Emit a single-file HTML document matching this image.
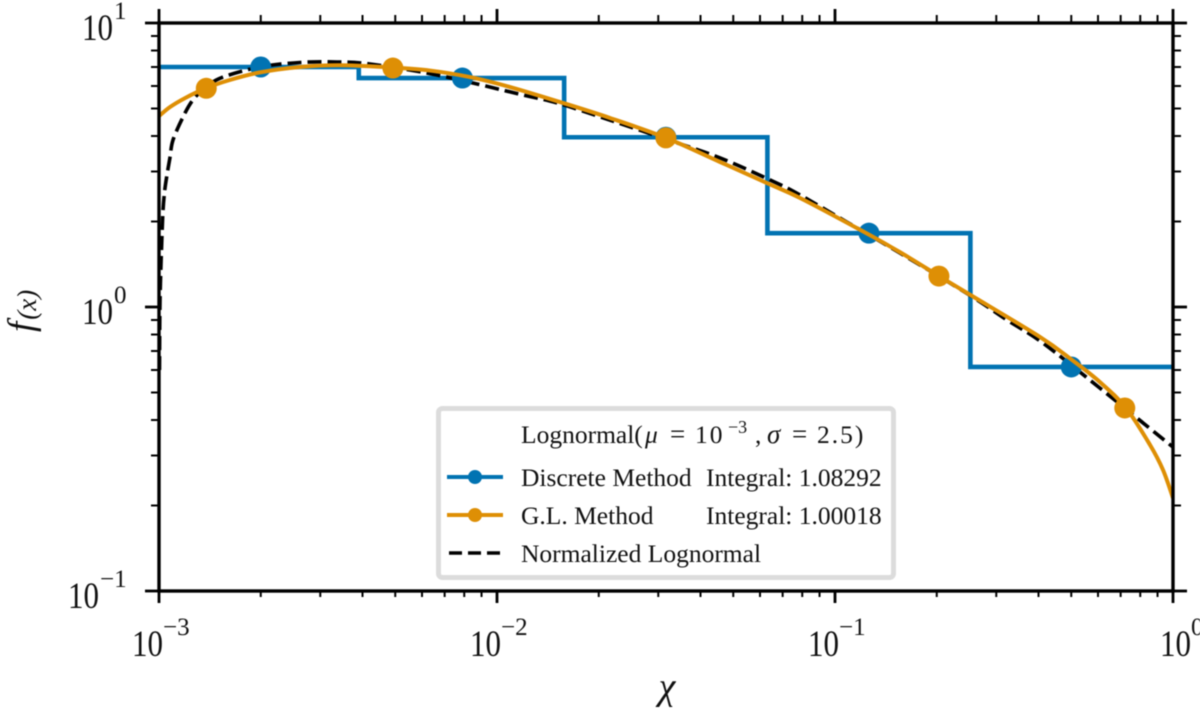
<!DOCTYPE html>
<html lang="en">
<head>
<meta charset="utf-8">
<title>Lognormal discretization chart</title>
<style>
html,body{margin:0;padding:0;background:#fff;width:1200px;height:713px;overflow:hidden}
svg{display:block;filter:blur(.4px)}
text{font-family:"Liberation Serif","DejaVu Serif",serif;fill:#111}
</style>
</head>
<body>
<svg id="chart" xmlns="http://www.w3.org/2000/svg" width="1200" height="713" viewBox="0 0 1200 713">
  <defs><clipPath id="plot-clip"><rect x="159" y="23" width="1014" height="568"/></clipPath></defs>
  <g id="series" clip-path="url(#plot-clip)"></g>
  <g id="markers"></g>
  <g id="axes"></g>
  <g id="labels"></g>
  <text x="667" y="699" font-size="38" font-style="italic" text-anchor="middle">χ</text>
  <text transform="translate(33,332) rotate(-90)" font-style="italic" font-size="37">f<tspan font-size="27" font-style="italic" dy="3" dx="2">(x)</tspan></text>
  <g>
    <rect x="438.5" y="408.5" width="455" height="169" rx="4" fill="#fff" stroke="#dcdcdc" stroke-width="5"/>
    <g font-size="25.5">
      <text x="521" y="443">Lognormal(</text>
      <text x="645" y="443" font-style="italic">μ</text>
      <text x="670" y="443" font-size="27">=</text>
      <text x="695" y="443" letter-spacing="2">10</text>
      <text x="728" y="433" font-size="18">−3</text>
      <text x="755" y="443">,</text>
      <text x="767" y="443" font-style="italic" font-size="27">σ</text>
      <text x="792" y="443" font-size="27">=</text>
      <text x="817" y="443" letter-spacing="2">2.5)</text>
    </g>
    <g>
      <line x1="447" x2="503" y1="477" y2="477" stroke="#0173B2" stroke-width="4"/>
      <circle cx="475" cy="477" r="7" fill="#0173B2"/>
      <text x="521" y="486" font-size="25.5">Discrete Method</text>
      <text x="706" y="486" font-size="25.5">Integral: 1.08292</text>
    </g>
    <g>
      <line x1="447" x2="503" y1="515" y2="515" stroke="#DE8F05" stroke-width="4"/>
      <circle cx="475" cy="515" r="7" fill="#DE8F05"/>
      <text x="521" y="524" font-size="25.5">G.L. Method</text>
      <text x="706" y="524" font-size="25.5">Integral: 1.00018</text>
    </g>
    <g>
      <line x1="449" x2="503" y1="553" y2="553" stroke="#000" stroke-width="3.5" stroke-dasharray="13,6"/>
      <text x="521" y="562" font-size="25.5">Normalized Lognormal</text>
    </g>
  </g>
</svg>
<script>
const xTickExponents = [-3, -2, -1, 0];
const yTickExponents = [-1, 0, 1];
const xTickLabels = ["−3", "−2", "−1", "0"];
const yTickLabels = ["−1", "0", "1"];
const minorMultipliers = [2, 3, 4, 5, 6, 7, 8, 9];

const discreteEdges = [0.001, 0.0039, 0.0158, 0.0631, 0.2515, 1];
const discreteValues = [7.0, 6.4, 3.96, 1.82, 0.615];
const discretePointX = [0.002, 0.0079, 0.0316, 0.126, 0.5];
const discretePointY = [7.0, 6.4, 3.96, 1.82, 0.615];

const glCurveX = [0.001, 0.001078, 0.001194, 0.001375, 0.00162, 0.00199, 0.00261, 0.00343, 0.00492, 0.00634, 0.00832, 0.01093, 0.01567, 0.02159, 0.03162, 0.04571, 0.0634, 0.0788, 0.1186, 0.1556, 0.2032, 0.246, 0.4044, 0.5026, 0.608, 0.726, 0.855, 0.934, 1];
const glCurveY = [4.70, 5.06, 5.44, 5.89, 6.30, 6.70, 7.0, 7.10, 6.97, 6.80, 6.45, 5.95, 5.23, 4.63, 3.94, 3.24, 2.72, 2.42, 1.87, 1.56, 1.285, 1.12, 0.784, 0.651, 0.544, 0.441, 0.327, 0.267, 0.2125];
const glPointX = [0.00138, 0.00492, 0.0316, 0.203, 0.72];
const glPointY = [5.89, 6.94, 3.94, 1.285, 0.441];

const lognormalX = [0.0010034, 0.001007, 0.00102, 0.001028, 0.00104, 0.001056, 0.001078, 0.0011, 0.001178, 0.00126, 0.001377, 0.001547, 0.00199, 0.00261, 0.00336, 0.00421, 0.00664, 0.01194, 0.01505, 0.02159, 0.03162, 0.04571, 0.0656, 0.0788, 0.1085, 0.1556, 0.2506, 0.3228, 0.4121, 0.608, 1];
const lognormalY = [0.60, 1.06, 1.76, 2.20, 2.58, 2.92, 3.37, 3.87, 4.67, 5.36, 5.95, 6.45, 7.0, 7.26, 7.29, 7.17, 6.56, 5.58, 5.23, 4.55, 3.90, 3.35, 2.77, 2.48, 1.99, 1.55, 1.10, 0.90, 0.747, 0.518, 0.321];

const NS = "http://www.w3.org/2000/svg";
const L = 159, R = 1173, T = 23, B = 591;
function sx(v) { return L + (Math.log10(v) + 3) / 3 * (R - L); }
function sy(v) { return B - (Math.log10(v) + 1) / 2 * (B - T); }

function make(tag, attrs, parent) {
  const el = document.createElementNS(NS, tag);
  for (const k in attrs) el.setAttribute(k, attrs[k]);
  parent.appendChild(el);
  return el;
}
function smoothPath(xs, ys) {
  const p = xs.map((x, i) => [sx(x), sy(ys[i])]);
  let d = "M" + p[0][0].toFixed(2) + " " + p[0][1].toFixed(2);
  for (let i = 0; i < p.length - 1; i++) {
    const a = p[Math.max(i - 1, 0)], b = p[i], c = p[i + 1], e = p[Math.min(i + 2, p.length - 1)];
    const c1x = b[0] + (c[0] - a[0]) / 6, c1y = b[1] + (c[1] - a[1]) / 6;
    const c2x = c[0] - (e[0] - b[0]) / 6, c2y = c[1] - (e[1] - b[1]) / 6;
    d += "C" + c1x.toFixed(2) + " " + c1y.toFixed(2) + " " + c2x.toFixed(2) + " " + c2y.toFixed(2) + " " + c[0].toFixed(2) + " " + c[1].toFixed(2);
  }
  return d;
}

const series = document.getElementById("series");
const markers = document.getElementById("markers");
const axes = document.getElementById("axes");
const labels = document.getElementById("labels");

let stepD = "M" + sx(discreteEdges[0]) + " " + sy(discreteValues[0]);
discreteValues.forEach(function (v, i) {
  stepD += "L" + sx(discreteEdges[i]) + " " + sy(v) + "L" + sx(discreteEdges[i + 1]) + " " + sy(v);
});
const stepLine = make("path", { d: stepD, fill: "none", stroke: "#0173B2", "stroke-width": 4.6 }, series);



const lognormalLine = make("path", { d: smoothPath(lognormalX, lognormalY), fill: "none", stroke: "#000", "stroke-width": 3.6, "stroke-dasharray": "14,6" }, series);



discretePointX.forEach(function (x, i) {
  const c = make("circle", { cx: sx(x), cy: sy(discretePointY[i]), r: 10.5, fill: "#0173B2" }, series);
  
  
});

const glLine = make("path", { d: smoothPath(glCurveX, glCurveY), fill: "none", stroke: "#DE8F05", "stroke-width": 4 }, series);



glPointX.forEach(function (x, i) {
  const c = make("circle", { cx: sx(x), cy: sy(glPointY[i]), r: 10.5, fill: "#DE8F05" }, markers);
  
  
});

function addTick(x1, y1, x2, y2, w, name) {
  const t = make("line", { x1: x1, y1: y1, x2: x2, y2: y2, stroke: "#000", "stroke-width": w }, axes);
  
  
}
const MAJ = 14, MIN = 8;
xTickExponents.forEach(function (e) {
  const px = sx(Math.pow(10, e));
  addTick(px, B, px, B + MAJ - 2, 2.8, "x-major-tick");
  addTick(px, T, px, T - MAJ, 2.8, "x-major-tick-top");
  if (e < 0) minorMultipliers.forEach(function (m) {
    const q = sx(m * Math.pow(10, e));
    addTick(q, B, q, B + MIN - 2, 2, "x-minor-tick");
    addTick(q, T, q, T - MIN, 2, "x-minor-tick-top");
  });
});
yTickExponents.forEach(function (e) {
  const py = sy(Math.pow(10, e));
  addTick(L, py, L - MAJ, py, 2.8, "y-major-tick");
  addTick(R, py, R + MAJ, py, 2.8, "y-major-tick-right");
  if (e < 1) minorMultipliers.forEach(function (m) {
    const q = sy(m * Math.pow(10, e));
    addTick(L, q, L - MIN, q, 2, "y-minor-tick");
    addTick(R, q, R + MIN, q, 2, "y-minor-tick-right");
  });
});
const frame = make("rect", { x: L, y: T, width: R - L, height: B - T, fill: "none", stroke: "#000", "stroke-width": 3.4 }, axes);



function addLabel(x, y, supX, supY, sup, name) {
  const g = make("g", {}, labels);
  
  
  const a = make("text", { x: x, y: y, "font-size": 37, textLength: 31, lengthAdjust: "spacingAndGlyphs" }, g);
  a.textContent = "10";
  const b = make("text", { x: supX, y: supY, "font-size": 25 }, g);
  b.textContent = sup;
}
xTickExponents.forEach(function (e, i) {
  const px = sx(Math.pow(10, e));
  const neg = e < 0;
  addLabel(px + (neg ? -27 : -13), 656, px + (neg ? 4 : 18), 635, xTickLabels[i], "x-tick-label");
});
yTickExponents.forEach(function (e, i) {
  const py = sy(Math.pow(10, e));
  const neg = e < 0;
  addLabel(neg ? 68 : 82, py + 17, neg ? 100 : 114, py - 4, yTickLabels[i], "y-tick-label");
});
</script>
</body>
</html>
